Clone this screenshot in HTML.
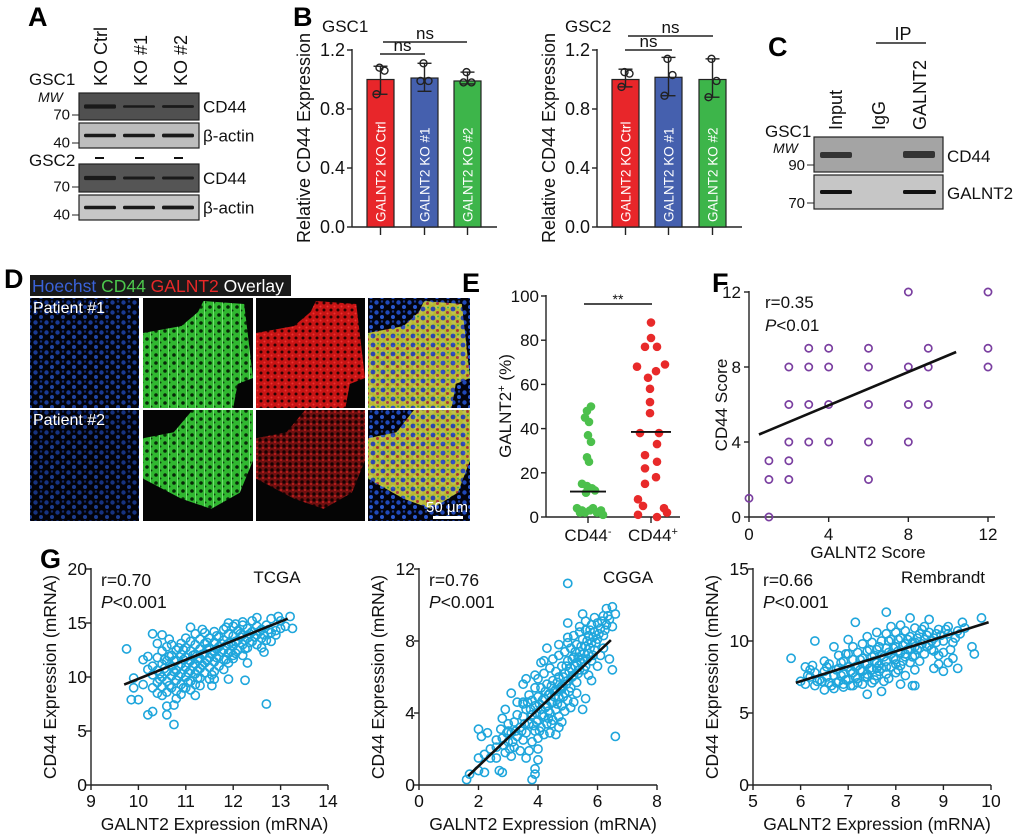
<!DOCTYPE html>
<html><head><meta charset="utf-8"><style>
html,body{margin:0;padding:0;background:#fff;}
svg{display:block;font-family:"Liberation Sans",Arial,sans-serif;}
</style></head><body>
<svg id="fig" width="1020" height="839" viewBox="0 0 1020 839" xmlns="http://www.w3.org/2000/svg">
<defs>
<pattern id="pBlue" width="11" height="10" patternUnits="userSpaceOnUse"><rect width="11" height="10" fill="#03040e"/><circle cx="2.5" cy="2.5" r="2.2" fill="#2048b8"/><circle cx="8" cy="7" r="2" fill="#2a58d0"/><circle cx="8" cy="1.5" r="1.2" fill="#1a3a98"/></pattern>
<pattern id="pGreen" width="9" height="8" patternUnits="userSpaceOnUse"><rect width="9" height="8" fill="#30b830"/><circle cx="3" cy="3" r="1.8" fill="#082808"/><circle cx="7.5" cy="6.5" r="1" fill="#0e3a0e"/><rect x="6" y="0" width="1" height="8" fill="#70e070"/></pattern>
<pattern id="pRed" width="7" height="7" patternUnits="userSpaceOnUse"><rect width="7" height="7" fill="#c81414"/><circle cx="2" cy="2" r="1.5" fill="#2a0303"/><circle cx="5.5" cy="5.5" r="1" fill="#ee3030"/></pattern>
<pattern id="pRedDim" width="6" height="6" patternUnits="userSpaceOnUse"><rect width="6" height="6" fill="#701010"/><circle cx="2" cy="2" r="1.7" fill="#150202"/><circle cx="5" cy="4" r="1" fill="#c82020"/></pattern>
<pattern id="pOver" width="10" height="9" patternUnits="userSpaceOnUse"><rect width="10" height="9" fill="#d8d838"/><circle cx="3" cy="3" r="2.4" fill="#3450c8"/><circle cx="7.5" cy="6.5" r="1.5" fill="#c83a3a"/><circle cx="8" cy="1.5" r="1" fill="#40c040"/></pattern>
</defs>
</svg>
<script>
// ---------------- DATA ----------------
const bCats = ["GALNT2 KO Ctrl","GALNT2 KO #1","GALNT2 KO #2"];
const bColors = ["#e8262a","#4560ae","#3db54a"];
const bYTicks = [0.0,0.4,0.8,1.2];
const gsc1Means = [1.00,1.01,0.99];
const gsc1Hi = [1.09,1.11,1.05];
const gsc1Lo = [0.90,0.92,0.97];
const gsc1Pts = [[1.08,1.06,0.90],[1.11,0.99,0.99],[1.05,0.98,0.98]];
const gsc2Means = [1.00,1.015,1.00];
const gsc2Hi = [1.07,1.15,1.14];
const gsc2Lo = [0.95,0.89,0.88];
const gsc2Pts = [[1.05,1.04,0.95],[1.14,1.03,0.89],[1.14,0.99,0.88]];
const eCats = ["CD44-","CD44+"];
const eYTicks = [0,20,40,60,80,100];
const eNeg = [50,48,45,43,37,34,27,25,15,14,13,12,11,4,3,3,2,2,3,1,4,2];
const ePos = [88,81,77,77,68,69,66,63,58,52,47,38,38,33,28,25,22,18,15,8,5,4,1,0,2];
const eNegMedian = 11.5;
const ePosMedian = 38.5;
const fTicks = [0,4,8,12];
const fX = [0,1,1,1,2,2,2,2,2,3,3,3,3,4,4,4,4,6,6,6,6,6,8,8,8,8,9,9,9,12,12,12];
const fY = [1,0,2,3,2,3,4,6,8,4,6,8,9,4,6,8,9,2,4,6,8,9,4,6,8,12,6,8,9,8,9,12];
const fFitX = [0.5,10.4];
const fFitY = [4.4,8.8];
const tcgaXTicks = [9,10,11,12,13,14];
const tcgaYTicks = [0,5,10,15,20];
const tcgaPts = [9.75,12.6,9.85,7.9,10.0,7.9,9.9,9.9,9.9,9.0,10.1,9.3,10.2,11.9,10.1,11.6,10.2,6.5,10.3,6.8,10.3,14.0,10.5,13.9,10.4,13.1,10.6,6.5,10.6,7.3,10.75,5.6,10.75,7.4,10.8,8.0,11.2,8.3,11.5,9.8,11.9,9.8,12.25,9.7,12.7,7.5,12.65,12.3,12.6,12.7,12.7,13.4,12.8,14.1,12.9,14.3,13.0,14.5,13.1,14.7,13.25,14.5,13.2,15.6,12.95,15.6,12.4,15.2,12.5,15.5,12.2,15.1,11.9,15.0,12.0,11.7,12.3,11.3,12.2,12.0,
10.3,10.2,10.3,11.0,10.4,9.5,10.4,10.6,10.4,11.8,10.5,9.1,10.5,10.0,10.5,11.2,10.5,12.4,10.6,8.6,10.6,9.6,10.6,10.5,10.6,11.5,10.6,12.8,10.7,9.0,10.7,10.1,10.7,11.0,10.7,12.0,10.7,13.0,10.8,8.7,10.8,9.7,10.8,10.6,10.8,11.5,10.8,12.5,10.9,9.3,10.9,10.3,10.9,11.2,10.9,12.1,10.9,13.1,11.0,9.0,11.0,10.0,11.0,10.9,11.0,11.8,11.0,12.7,11.0,13.6,11.1,9.6,11.1,10.6,11.1,11.5,11.1,12.4,11.1,13.3,11.2,9.3,11.2,10.3,11.2,11.2,11.2,12.1,11.2,13.0,11.2,14.0,11.3,9.9,11.3,10.8,11.3,11.7,11.3,12.6,11.3,13.5,11.4,10.4,11.4,11.3,11.4,12.2,11.4,13.1,11.4,14.1,11.5,10.9,11.5,11.8,11.5,12.7,11.5,13.6,11.6,10.5,11.6,11.4,11.6,12.3,11.6,13.2,11.6,14.2,11.7,11.0,11.7,11.9,11.7,12.8,11.7,13.7,11.8,10.7,11.8,11.6,11.8,12.5,11.8,13.4,11.8,14.4,11.9,11.3,11.9,12.2,11.9,13.1,11.9,14.0,12.0,12.0,12.0,12.9,12.0,13.8,12.0,14.7,12.1,12.5,12.1,13.4,12.1,14.3,12.2,13.0,12.2,13.9,12.2,14.8,12.3,12.7,12.3,13.6,12.3,14.5,12.4,13.3,12.4,14.2,12.5,13.0,12.5,13.9,12.5,14.7,12.6,13.6,12.6,14.4,12.7,14.8,12.8,13.3,12.9,13.9,13.0,15.2,12.8,15.4,10.2,10.7,10.3,9.0,10.4,8.5,10.5,8.3,10.9,8.4,11.1,8.8,11.3,9.2,11.6,9.8,
10.45,10.3,10.55,10.8,10.65,11.9,10.75,10.5,10.85,11.0,10.95,11.6,11.05,10.4,11.15,11.0,11.25,11.7,11.35,12.1,11.45,11.5,11.55,12.2,11.65,12.6,11.75,12.3,11.85,12.9,11.95,13.2,12.05,13.3,12.15,13.7,12.25,13.4,12.35,14.0,
10.45,9.8,10.55,11.6,10.65,9.2,10.75,11.5,10.85,10.1,10.95,12.5,11.05,11.3,11.15,12.0,11.25,10.6,11.35,11.1,11.45,12.6,11.55,10.2,11.65,11.8,11.75,13.1,11.85,11.6,11.95,12.4,12.05,12.2,12.15,14.0,12.25,12.6,12.35,13.2,12.45,13.7,12.55,14.2,12.65,13.9,12.75,14.4,11.05,9.5,11.25,9.9,10.85,12.7,11.45,13.2,11.65,13.8,11.85,14.6,12.05,14.9,10.65,13.5,11.35,14.4,11.1,14.6,10.95,9.0,11.55,9.2];
const tcgaFitX = [9.7,13.15];
const tcgaFitY = [9.3,15.4];
const cggaXTicks = [0,2,4,6,8];
const cggaYTicks = [0,4,8,12];
const cggaPts = [1.6,0.3,1.7,0.6,2.0,0.8,2.2,0.7,2.0,1.5,2.2,1.7,2.4,1.5,2.1,2.7,2.0,3.1,2.3,2.9,2.6,2.5,2.4,2.0,2.6,1.5,2.7,0.8,2.8,0.7,2.8,3.7,2.9,4.2,3.1,5.1,3.0,3.4,3.3,4.6,3.5,4.5,3.8,0.3,3.9,0.6,3.9,0.9,3.6,1.5,3.7,1.9,4.0,1.4,4.0,2.0,4.6,2.8,4.7,3.2,5.0,11.2,6.6,2.7,6.5,6.4,6.5,8.8,6.6,9.5,6.5,9.9,6.3,9.8,6.2,9.4,5.9,9.3,5.6,9.1,5.4,8.5,5.0,8.2,4.7,7.8,4.3,7.6,4.1,6.8,3.9,6.1,3.5,5.6,6.4,7.0,6.2,7.6,6.0,6.6,5.8,5.8,5.6,4.8,5.5,4.2,
2.6,2.1,2.8,2.6,2.9,1.8,3.0,2.4,3.0,3.0,3.1,1.6,3.1,2.9,3.2,2.1,3.2,3.5,3.3,2.7,3.3,3.9,3.4,1.9,3.4,3.2,3.5,2.5,3.5,3.8,3.5,4.6,3.6,2.9,3.6,4.2,3.7,3.4,3.7,5.0,3.8,2.4,3.8,3.9,3.8,4.7,3.9,3.0,3.9,4.4,3.9,5.4,4.0,2.6,4.0,3.6,4.0,4.9,4.0,5.9,4.1,3.2,4.1,4.2,4.1,5.4,4.2,2.8,4.2,3.8,4.2,4.8,4.2,6.2,4.3,3.4,4.3,4.4,4.3,5.6,4.4,2.9,4.4,4.0,4.4,5.1,4.4,6.5,4.5,3.6,4.5,4.6,4.5,5.8,4.5,7.0,4.6,4.2,4.6,5.3,4.6,6.3,4.7,3.8,4.7,4.9,4.7,6.0,4.7,7.2,4.8,4.4,4.8,5.5,4.8,6.6,4.9,5.1,4.9,6.2,4.9,7.4,5.0,4.7,5.0,5.8,5.0,6.9,5.0,7.9,5.1,5.4,5.1,6.5,5.1,7.6,5.2,6.1,5.2,7.1,5.2,8.3,5.3,5.7,5.3,6.8,5.3,7.8,5.4,6.4,5.4,7.4,5.4,8.8,5.5,7.0,5.5,8.1,5.6,6.6,5.6,7.7,5.6,8.6,5.7,7.3,5.7,8.3,5.8,6.9,5.8,7.9,5.8,8.9,5.9,7.5,5.9,8.5,6.0,8.1,6.0,9.0,6.1,7.2,6.1,8.7,6.2,8.3,6.3,8.9,6.4,9.2,5.0,9.0,5.5,9.5,4.2,6.9,3.6,5.9,4.8,3.5,5.2,4.6,
4.35,5.0,4.45,5.5,4.55,5.2,4.65,5.7,4.75,5.4,4.85,6.0,4.95,5.6,5.05,6.3,5.15,6.0,5.25,6.6,5.35,7.1,5.45,6.8,5.55,7.3,5.65,8.0,5.75,7.6,5.85,8.2,3.95,4.0,4.05,4.5,4.15,3.9,4.25,4.3,4.35,3.7,4.45,4.6,
3.85,3.3,3.95,3.5,4.05,3.0,4.15,4.7,4.25,5.2,4.35,4.1,4.45,3.4,4.55,4.9,4.65,4.5,4.75,5.3,4.85,4.9,4.95,6.6,5.05,5.2,5.15,7.0,5.25,7.4,5.35,6.2,5.45,7.7,5.55,6.4,5.65,7.0,5.75,8.6,5.85,7.2,5.95,7.9,6.05,8.4,6.15,9.1,6.25,8.6,6.35,9.4,3.45,3.0,3.55,3.4,3.65,4.6,3.75,4.2,3.25,3.0,3.15,2.4,3.05,2.0,2.95,2.9,2.85,2.2,2.75,3.1,5.1,4.3,4.9,4.1,5.3,5.1,5.7,6.1];
const cggaFitX = [1.65,6.45];
const cggaFitY = [0.5,8.05];
const rembXTicks = [5,6,7,8,9,10];
const rembYTicks = [0,5,10,15];
const rembPts = [5.8,8.8,6.3,10.0,6.1,8.2,6.25,8.3,7.15,11.3,7.8,12.0,9.8,11.6,9.6,9.6,9.65,9.1,9.3,8.1,9.0,7.9,8.9,9.0,9.0,9.2,8.8,8.1,8.4,6.9,8.35,6.9,7.7,6.5,7.4,6.3,8.1,7.0,9.4,11.3,9.1,11.0,8.7,11.5,8.3,11.6,
6.0,7.2,6.1,7.0,6.2,7.5,6.3,6.9,6.3,7.8,6.4,7.3,6.5,6.6,6.5,7.9,6.6,7.1,6.6,8.4,6.7,6.7,6.7,7.6,6.7,9.6,6.8,7.2,6.8,8.1,6.8,9.0,6.9,6.8,6.9,7.7,6.9,8.6,7.0,7.3,7.0,8.2,7.0,9.1,7.0,10.1,7.1,6.9,7.1,7.8,7.1,8.7,7.1,9.6,7.2,7.4,7.2,8.3,7.2,9.2,7.3,7.0,7.3,7.9,7.3,8.8,7.3,9.8,7.4,7.5,7.4,8.4,7.4,9.3,7.4,10.3,7.5,7.1,7.5,8.0,7.5,8.9,7.5,9.9,7.6,7.6,7.6,8.5,7.6,9.4,7.6,10.6,7.7,8.1,7.7,9.0,7.7,10.0,7.8,7.7,7.8,8.6,7.8,9.5,7.8,10.5,7.9,8.2,7.9,9.1,7.9,10.1,7.9,11.0,8.0,7.8,8.0,8.7,8.0,9.6,8.0,10.6,8.1,8.3,8.1,9.2,8.1,10.2,8.1,11.1,8.2,7.6,8.2,8.9,8.2,9.8,8.2,10.7,8.3,8.5,8.3,9.4,8.3,10.3,8.4,8.0,8.4,9.0,8.4,9.9,8.4,10.9,8.5,8.6,8.5,9.5,8.5,10.5,8.6,9.1,8.6,10.1,8.6,11.0,8.7,9.7,8.7,10.6,8.8,9.3,8.8,10.2,8.9,10.8,9.0,10.0,9.1,10.5,9.2,9.9,9.3,10.7,9.1,8.5,9.2,8.8,8.9,8.4,6.5,8.6,6.2,8.0,
6.45,7.2,6.55,7.5,6.75,7.1,6.85,7.6,6.95,7.3,7.05,7.9,7.15,7.5,7.25,8.0,7.35,8.4,7.45,8.1,7.55,8.6,7.65,8.3,7.75,8.9,7.85,9.2,7.95,8.8,8.05,9.3,8.15,9.7,8.25,9.4,8.35,9.9,8.45,10.2,8.55,9.8,8.65,10.4,8.75,10.0,8.85,10.5,7.55,7.3,7.65,7.9,7.85,7.4,8.05,8.0,
6.15,7.6,6.35,7.2,6.55,8.2,6.65,6.9,6.75,8.0,6.85,8.5,6.95,9.1,7.05,6.9,7.15,8.2,7.25,8.7,7.35,7.5,7.45,9.4,7.55,9.0,7.65,9.6,7.75,7.2,7.85,10.0,7.95,9.5,8.05,10.1,8.15,8.6,8.25,10.1,8.35,8.9,8.45,9.4,8.55,10.8,8.65,9.6,8.75,9.4,8.85,9.9,8.95,10.4,9.05,10.8,9.15,9.4,9.25,10.2,9.35,10.5,9.45,10.9,6.9,7.0,7.2,7.1,7.4,7.7,7.6,8.1,7.8,8.2,8.0,8.4,8.2,9.1,8.4,9.6];
const rembFitX = [5.9,9.95];
const rembFitY = [7.1,11.3];

// ---------------- HELPERS ----------------
const svg = document.getElementById('fig');
const NS = 'http://www.w3.org/2000/svg';
function el(tag, attrs, parent) {
  const e = document.createElementNS(NS, tag);
  for (const k in attrs) e.setAttribute(k, attrs[k]);
  (parent || svg).appendChild(e);
  return e;
}
function txt(x, y, s, attrs, parent) {
  const t = el('text', Object.assign({x: x, y: y, 'font-size': 16, fill: '#111'}, attrs || {}), parent);
  t.textContent = s;
  return t;
}
function scale(d0, d1, r0, r1) { return v => r0 + (v - d0) / (d1 - d0) * (r1 - r0); }
function group(name) {
  const g = el('g', {});
  
  
  return g;
}

[["A",28,26],["B",293,26],["C",768,56],["D",4,288],["E",462,292],["F",712,292],["G",40,568]].forEach(function(p){
  const t = txt(p[1], p[2], p[0], {'font-size': 27, 'font-weight': 'bold', fill: '#000'});
  
  
});

// ---------------- PANEL A ----------------
(function(){
  const g = group('panel-a-western-blot');
  [["KO Ctrl",100],["KO #1",140],["KO #2",180]].forEach(function(l){
    const t = txt(l[1]+7, 86, l[0], {'font-size': 18, transform: 'rotate(-90 '+(l[1]+7)+' 86)'}, g);
    
    
  });
  txt(29, 85, 'GSC1', {'font-size': 17}, g);
  txt(38, 102, 'MW', {'font-size': 14, 'font-style': 'italic'}, g);
  txt(29, 166, 'GSC2', {'font-size': 17}, g);
  [[93,'#505050',120,70],[123,'#bdbdbd',148,40],[164,'#555',192,70],[195,'#c6c6c6',220,40]].forEach(function(b,i){
    const r = el('rect', {x: 79, y: b[0], width: 120, height: b[2]-b[0], fill: b[1], stroke: '#222', 'stroke-width': 1.2}, g);
    
    
    const cy = (b[0]+b[2])/2;
    const widths = i===0 ? [3.2,1.6,1.8] : i===2 ? [3.2,2,2] : [2.6,2.6,2.8];
    [100,139,178].forEach(function(x,j){
      el('rect', {x: x-16, y: cy-widths[j]/2-0.5, width: 32, height: widths[j]+1, rx: 1.5, fill: '#1a1a1a'}, g);
    });
    el('line', {x1: 72, x2: 79, y1: b[2]-5, y2: b[2]-5, stroke: '#222'}, g);
    txt(70, b[2]-0.5, String(b[3]), {'font-size': 15, 'text-anchor': 'end'}, g);
    txt(203, cy+6, i%2===0 ? 'CD44' : 'β-actin', {'font-size': 17}, g);
  });
  [95,135,174].forEach(function(x){ el('line', {x1: x, x2: x+9, y1: 158, y2: 158, stroke: '#111', 'stroke-width': 2}, g); });
})();

// ---------------- PANEL B ----------------
function drawBars(name, ax, axEnd, bars, title, titleX, means, hi, lo, pts, brackets) {
  const g = group(name);
  const y = scale(0, 1.2, 227, 50);
  el('line', {x1: ax, x2: ax, y1: 49, y2: 227, stroke: '#222', 'stroke-width': 1.4}, g);
  el('line', {x1: ax, x2: axEnd, y1: 227, y2: 227, stroke: '#222', 'stroke-width': 1.4}, g);
  bYTicks.forEach(function(v){
    el('line', {x1: ax-5, x2: ax, y1: y(v), y2: y(v), stroke: '#222', 'stroke-width': 1.4}, g);
    const t = txt(ax-7, y(v)+6, v.toFixed(1), {'font-size': 18, 'text-anchor': 'end'}, g);
    
    
  });
  const yt = txt(ax-42, 138, 'Relative CD44 Expression', {'font-size': 18, 'text-anchor': 'middle', transform: 'rotate(-90 '+(ax-42)+' 138)'}, g);
  
  
  txt(titleX, 32, title, {'font-size': 17}, g);
  bCats.forEach(function(c, i){
    const x0 = bars[i], w = 27, cx = x0 + w/2;
    const r = el('rect', {x: x0, y: y(means[i]), width: w, height: 227 - y(means[i]), fill: bColors[i], stroke: '#222', 'stroke-width': 1.2}, g);
    
    
    el('line', {x1: cx, x2: cx, y1: y(hi[i]), y2: y(lo[i]), stroke: '#222', 'stroke-width': 1.4}, g);
    el('line', {x1: cx-7, x2: cx+7, y1: y(hi[i]), y2: y(hi[i]), stroke: '#222', 'stroke-width': 1.4}, g);
    el('line', {x1: cx-7, x2: cx+7, y1: y(lo[i]), y2: y(lo[i]), stroke: '#222', 'stroke-width': 1.4}, g);
    el('line', {x1: cx, x2: cx, y1: 227, y2: 235, stroke: '#222', 'stroke-width': 1.4}, g);
    const offs = [-1, 4, -4];
    pts[i].forEach(function(v, k){
      el('circle', {cx: cx + offs[k], cy: y(v), r: 3.5, fill: 'none', stroke: '#222', 'stroke-width': 1.4}, g);
    });
    const lt = txt(cx+5, 222, c, {'font-size': 13.5, fill: '#fff', transform: 'rotate(-90 '+(cx+5)+' 222)'}, g);
    
    
  });
  brackets.forEach(function(b){
    el('line', {x1: b[0], x2: b[1], y1: b[2], y2: b[2], stroke: '#222', 'stroke-width': 1.4}, g);
    txt((b[0]+b[1])/2, b[2]-3, 'ns', {'font-size': 17, 'text-anchor': 'middle'}, g);
  });
}
drawBars('panel-b-gsc1-bars', 352, 497, [367,411,454], 'GSC1', 322, gsc1Means, gsc1Hi, gsc1Lo, gsc1Pts, [[380,425,54],[383,467,42]]);
drawBars('panel-b-gsc2-bars', 597, 742, [612,655,699], 'GSC2', 565, gsc2Means, gsc2Hi, gsc2Lo, gsc2Pts, [[625,672,50],[628,713,36]]);

// ---------------- PANEL C ----------------
(function(){
  const g = group('panel-c-ip-blot');
  txt(903, 40, 'IP', {'font-size': 18, 'text-anchor': 'middle'}, g);
  el('line', {x1: 876, x2: 926, y1: 43, y2: 43, stroke: '#222', 'stroke-width': 1.4}, g);
  [["Input",842],["IgG",885],["GALNT2",926]].forEach(function(l){
    txt(l[1], 130, l[0], {'font-size': 18, transform: 'rotate(-90 '+l[1]+' 130)'}, g);
  });
  txt(765, 137, 'GSC1', {'font-size': 17}, g);
  txt(773, 153, 'MW', {'font-size': 14, 'font-style': 'italic'}, g);
  el('rect', {x: 814, y: 137, width: 129, height: 35, fill: '#a4a4a4', stroke: '#222', 'stroke-width': 1.2}, g);
  el('rect', {x: 814, y: 175, width: 129, height: 34, fill: '#c6c6c6', stroke: '#222', 'stroke-width': 1.2}, g);
  el('rect', {x: 820, y: 152, width: 32, height: 6, rx: 2, fill: '#333'}, g);
  el('rect', {x: 903, y: 151, width: 32, height: 7, rx: 2, fill: '#333'}, g);
  el('rect', {x: 820, y: 190, width: 32, height: 4, rx: 1.5, fill: '#111'}, g);
  el('rect', {x: 903, y: 190, width: 33, height: 4, rx: 1.5, fill: '#111'}, g);
  el('line', {x1: 807, x2: 814, y1: 165, y2: 165, stroke: '#222'}, g);
  el('line', {x1: 807, x2: 814, y1: 203, y2: 203, stroke: '#222'}, g);
  txt(805, 170, '90', {'font-size': 15, 'text-anchor': 'end'}, g);
  txt(805, 208, '70', {'font-size': 15, 'text-anchor': 'end'}, g);
  txt(947, 162, 'CD44', {'font-size': 17}, g);
  txt(947, 199, 'GALNT2', {'font-size': 17}, g);
})();

// ---------------- PANEL D ----------------
(function(){
  const g = group('panel-d-immunofluorescence');
  el('rect', {x: 30, y: 275, width: 261, height: 21, fill: '#1a1a1a'}, g);
  const hdr = el('text', {x: 32, y: 292, 'font-size': 17.5}, g);
  [["Hoechst ","#3a62d8"],["CD44 ","#4cc84c"],["GALNT2 ","#e82828"],["Overlay","#fff"]].forEach(function(p){
    const s = el('tspan', {fill: p[1]}, hdr); s.textContent = p[0];
  });
  const cols = [30,143,256,368], widths = [109,110,109,102];
  const rows = [[298,110],[410,111]];
  el('rect', {x: 29, y: 297, width: 442, height: 225, fill: '#fff'}, g);
  rows.forEach(function(rw, ri){
    cols.forEach(function(cx, ci){
      const w = widths[ci], h = rw[1], y0 = rw[0];
      const base = el('rect', {x: cx, y: y0, width: w, height: h, fill: (ci===0 || ci===3) ? 'url(#pBlue)' : '#050505'}, g);
      
      
      if (ci===0) el('rect', {x: cx, y: y0, width: w, height: h, fill: '#000', opacity: ri===0 ? 0.2 : 0.3}, g);
      const shape = ri===0
        ? [[0,35],[35,28],[50,14],[55,3],[92,6],[100,80],[86,86],[82,110],[0,110]]
        : [[45,0],[100,0],[100,50],[88,82],[62,98],[35,88],[0,68],[0,28],[28,22]];
      const pts = shape.map(function(p){ return (cx + p[0]*w/100) + ',' + (y0 + p[1]*h/110); }).join(' ');
      if (ci===1) el('polygon', {points: pts, fill: 'url(#pGreen)'}, g);
      if (ci===2) el('polygon', {points: pts, fill: ri===0 ? 'url(#pRed)' : 'url(#pRedDim)'}, g);
      if (ci===3) el('polygon', {points: pts, fill: 'url(#pOver)', opacity: 0.85}, g);
    });
    txt(33, rw[0]+15, 'Patient #' + (ri+1), {'font-size': 16, fill: '#fff'}, g);
  });
  txt(426, 512, '50 μm', {'font-size': 15, fill: '#fff'}, g);
  el('rect', {x: 433, y: 516, width: 30, height: 3, fill: '#fff'}, g);
})();

// ---------------- PANEL E ----------------
(function(){
  const g = group('panel-e-dotplot');
  const y = scale(0, 100, 517, 296);
  const xc = [588, 651];
  el('line', {x1: 546, x2: 546, y1: 295, y2: 517, stroke: '#222', 'stroke-width': 1.4}, g);
  el('line', {x1: 546, x2: 680, y1: 517, y2: 517, stroke: '#222', 'stroke-width': 1.4}, g);
  eYTicks.forEach(function(v){
    el('line', {x1: 541, x2: 546, y1: y(v), y2: y(v), stroke: '#222', 'stroke-width': 1.4}, g);
    txt(539, y(v)+6, String(v), {'font-size': 17, 'text-anchor': 'end'}, g);
  });
  xc.forEach(function(x){ el('line', {x1: x, x2: x, y1: 517, y2: 523, stroke: '#222', 'stroke-width': 1.4}, g); });
  const yt = el('text', {x: 511, y: 406, 'font-size': 17, 'text-anchor': 'middle', fill: '#111', transform: 'rotate(-90 511 406)'}, g);
  yt.innerHTML = 'GALNT2<tspan font-size="11" dy="-6">+</tspan><tspan dy="6"> (%)</tspan>';
  
  
  const l1 = el('text', {x: 588, y: 541, 'font-size': 17, 'text-anchor': 'middle', fill: '#111'}, g);
  l1.innerHTML = 'CD44<tspan font-size="11" dy="-6">-</tspan>';
  const l2 = el('text', {x: 653, y: 541, 'font-size': 17, 'text-anchor': 'middle', fill: '#111'}, g);
  l2.innerHTML = 'CD44<tspan font-size="11" dy="-6">+</tspan>';
  const jN = [3,-1,-3,1,0,3,-1,1,-6,-1,4,7,-2,-11,-6,2,9,-3,13,15,5,-8];
  const jP = [0,0,-6,6,-14,14,5,-3,-1,-1,-1,-11,8,6,-6,6,-6,5,-6,-13,-8,13,-13,6,16];
  eNeg.forEach(function(v,i){
    const c = el('circle', {cx: xc[0]+jN[i], cy: y(v), r: 4.3, fill: '#4cc04c'}, g);
    
    
  });
  ePos.forEach(function(v,i){
    const c = el('circle', {cx: xc[1]+jP[i], cy: y(v), r: 4.3, fill: '#e82a2a'}, g);
    
    
  });
  el('line', {x1: xc[0]-18, x2: xc[0]+18, y1: y(eNegMedian), y2: y(eNegMedian), stroke: '#111', 'stroke-width': 1.8}, g);
  el('line', {x1: xc[1]-20, x2: xc[1]+20, y1: y(ePosMedian), y2: y(ePosMedian), stroke: '#111', 'stroke-width': 1.8}, g);
  el('line', {x1: 584, x2: 652, y1: 304, y2: 304, stroke: '#111', 'stroke-width': 1.4}, g);
  txt(618, 304, '**', {'font-size': 14, 'text-anchor': 'middle'}, g);
})();

// ---------------- PANEL F ----------------
(function(){
  const g = group('panel-f-score-scatter');
  const x = scale(0, 12, 749, 988), y = scale(0, 12, 517, 292);
  el('line', {x1: 749, x2: 749, y1: 291, y2: 517, stroke: '#222', 'stroke-width': 1.4}, g);
  el('line', {x1: 749, x2: 995, y1: 517, y2: 517, stroke: '#222', 'stroke-width': 1.4}, g);
  fTicks.forEach(function(v){
    el('line', {x1: 744, x2: 749, y1: y(v), y2: y(v), stroke: '#222', 'stroke-width': 1.4}, g);
    txt(741, y(v)+6, String(v), {'font-size': 17, 'text-anchor': 'end'}, g);
    el('line', {x1: x(v), x2: x(v), y1: 517, y2: 522, stroke: '#222', 'stroke-width': 1.4}, g);
    txt(x(v), 540, String(v), {'font-size': 17, 'text-anchor': 'middle'}, g);
  });
  txt(868, 558, 'GALNT2 Score', {'font-size': 17, 'text-anchor': 'middle'}, g);
  txt(727, 405, 'CD44 Score', {'font-size': 17, 'text-anchor': 'middle', transform: 'rotate(-90 727 405)'}, g);
  txt(765, 308, 'r=0.35', {'font-size': 17}, g);
  const pt = el('text', {x: 765, y: 331, 'font-size': 17, fill: '#111'}, g);
  pt.innerHTML = '<tspan font-style="italic">P</tspan>&lt;0.01';
  fX.forEach(function(v,i){
    const c = el('circle', {cx: x(v), cy: y(fY[i]), r: 3.6, fill: 'none', stroke: '#7a3fa0', 'stroke-width': 1.7}, g);
    
    
  });
  const fl = el('line', {x1: x(fFitX[0]), y1: y(fFitY[0]), x2: x(fFitX[1]), y2: y(fFitY[1]), stroke: '#111', 'stroke-width': 2.6}, g);
  
  
})();

// ---------------- PANEL G ----------------
function drawG(name, ax, axR, xTicks, yTicks, pts, fitX, fitY, rLbl, dbLbl, dbX) {
  const g = group(name);
  const x = scale(xTicks[0], xTicks[xTicks.length-1], ax, axR);
  const y = scale(yTicks[0], yTicks[yTicks.length-1], 785, 569);
  el('line', {x1: ax, x2: ax, y1: 568, y2: 785, stroke: '#222', 'stroke-width': 1.4}, g);
  el('line', {x1: ax, x2: axR, y1: 785, y2: 785, stroke: '#222', 'stroke-width': 1.4}, g);
  yTicks.forEach(function(v){
    el('line', {x1: ax-5, x2: ax, y1: y(v), y2: y(v), stroke: '#222', 'stroke-width': 1.4}, g);
    txt(ax-4, y(v)+6, String(v), {'font-size': 17.5, 'text-anchor': 'end'}, g);
  });
  xTicks.forEach(function(v){
    el('line', {x1: x(v), x2: x(v), y1: 785, y2: 790, stroke: '#222', 'stroke-width': 1.4}, g);
    txt(x(v), 807, String(v), {'font-size': 17.5, 'text-anchor': 'middle'}, g);
  });
  txt((ax+axR)/2 + 5, 830, 'GALNT2 Expression  (mRNA)', {'font-size': 17.5, 'text-anchor': 'middle'}, g);
  const tx = ax - 35;
  txt(tx, 677, 'CD44 Expression  (mRNA)', {'font-size': 17.5, 'text-anchor': 'middle', transform: 'rotate(-90 '+tx+' 677)'}, g);
  txt(ax+10, 586, rLbl, {'font-size': 17.5}, g);
  const pt = el('text', {x: ax+10, y: 608, 'font-size': 17.5, fill: '#111'}, g);
  pt.innerHTML = '<tspan font-style="italic">P</tspan>&lt;0.001';
  txt(dbX, 583, dbLbl, {'font-size': 17, 'text-anchor': 'middle'}, g);
  for (let i = 0; i < pts.length; i += 2) {
    const c = el('circle', {cx: x(pts[i]), cy: y(pts[i+1]), r: 4.1, fill: 'none', stroke: '#1fa6dc', 'stroke-width': 1.6}, g);
    
    
  }
  const fl = el('line', {x1: x(fitX[0]), y1: y(fitY[0]), x2: x(fitX[1]), y2: y(fitY[1]), stroke: '#111', 'stroke-width': 2.6}, g);
  
  
}
drawG('panel-g-tcga', 91, 328, tcgaXTicks, tcgaYTicks, tcgaPts, tcgaFitX, tcgaFitY, 'r=0.70', 'TCGA', 277);
drawG('panel-g-cgga', 419, 657, cggaXTicks, cggaYTicks, cggaPts, cggaFitX, cggaFitY, 'r=0.76', 'CGGA', 628);
drawG('panel-g-rembrandt', 753, 991, rembXTicks, rembYTicks, rembPts, rembFitX, rembFitY, 'r=0.66', 'Rembrandt', 943);
</script>
</body></html>
